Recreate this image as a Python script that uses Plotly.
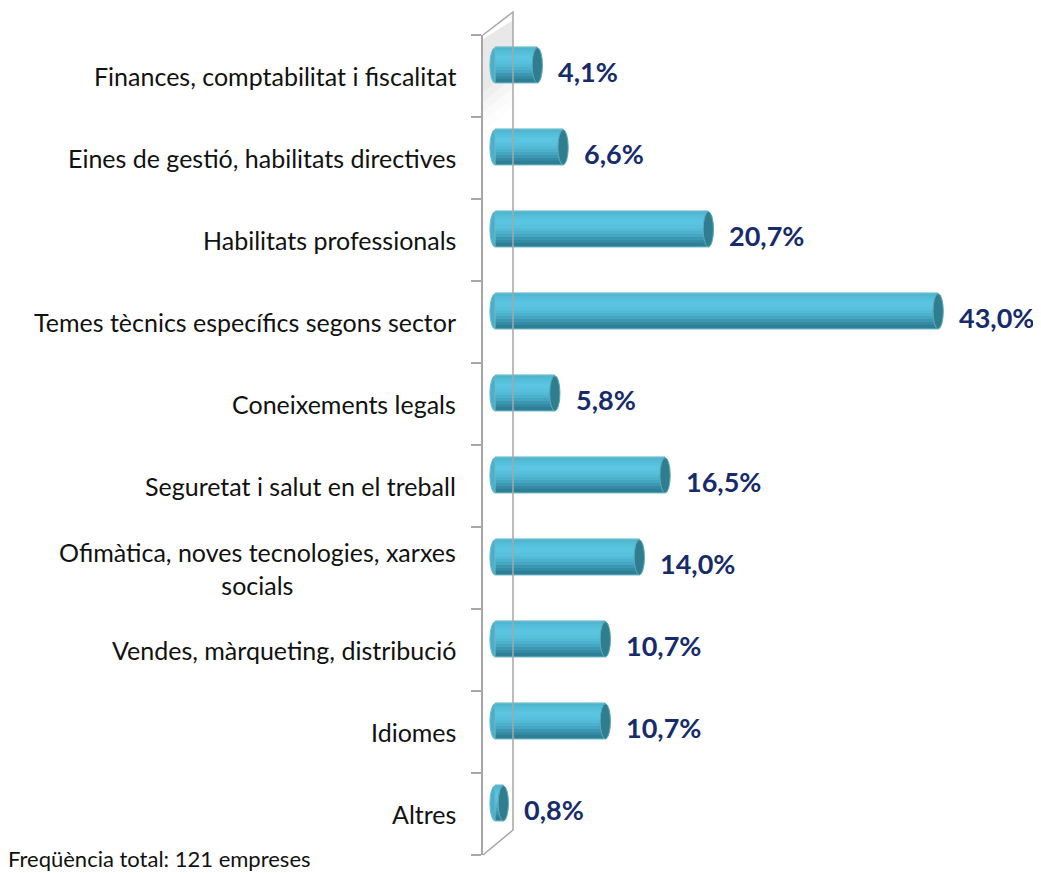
import plotly.graph_objects as go

# data (top to bottom as in the chart)
categories = [
    "Finances, comptabilitat i fiscalitat",
    "Eines de gestió, habilitats directives",
    "Habilitats professionals",
    "Temes tècnics específics segons sector",
    "Coneixements legals",
    "Seguretat i salut en el treball",
    "Ofimàtica, noves tecnologies, xarxes<br>socials",
    "Vendes, màrqueting, distribució",
    "Idiomes",
    "Altres",
]
percent = [4.1, 6.6, 20.7, 43.0, 5.8, 16.5, 14.0, 10.7, 10.7, 0.8]
footnote = "Freqüència total: 121 empreses"

FONT = "Lato"
NAVY = "#172B6B"
GRAY = "#A6A6A6"

# page has an 8px body margin, so figure is a bit smaller than the window
W, H = 1033, 865
ML, MR, MT, MB = 475, 40, 27, 18
PW, PH = W - ML - MR, H - MT - MB
X0, X1 = -1.17, 49.1   # x axis range
BAR_W = 0.43
SHIFT = 0.13           # bars sit a little above the tick centre (3D look)

# positions: first category at the top
ypos = list(range(len(categories) - 1, -1, -1))

fig = go.Figure()

# base fill under the shading strips (hides seams)
fig.add_trace(go.Bar(
    x=percent, y=ypos, orientation="h", width=BAR_W,
    offset=SHIFT - BAR_W / 2,
    marker=dict(color="#4FB7D1", line=dict(width=0)),
    hoverinfo="skip", showlegend=False,
))

# cylinder shading: stacked thin strips, top -> bottom
strip_colors = ["#4DB4CD", "#52BCD6", "#57C1DC", "#5AC5E0", "#5AC4E0",
                "#57C1DC", "#52BAD5", "#4BB1CC", "#44A6C0", "#3C98B2",
                "#348BA3", "#2D7F95"]
n = len(strip_colors)
sw = BAR_W / n
for i, c in enumerate(strip_colors):
    fig.add_trace(go.Bar(
        x=percent, y=ypos, orientation="h",
        base=0, width=sw * 1.4, offset=SHIFT + BAR_W / 2 - (i + 1) * sw,
        marker=dict(color=c, line=dict(width=0)),
        hoverinfo="skip", showlegend=False,
    ))

# outline
fig.add_trace(go.Bar(
    x=percent, y=ypos, orientation="h", width=BAR_W,
    offset=SHIFT - BAR_W / 2,
    marker=dict(color="rgba(0,0,0,0)", line=dict(color="#6FB9CB", width=1)),
    hoverinfo="skip", showlegend=False,
))

# end caps (ellipses at both ends of each cylinder)
cap = 0.5
for v, y in zip(percent, ypos):
    y0, y1 = y + SHIFT - BAR_W / 2, y + SHIFT + BAR_W / 2
    fig.add_shape(type="circle", xref="x", yref="y", layer="below",
                  x0=-cap, x1=cap, y0=y0, y1=y1,
                  fillcolor="#4AB0C9", line=dict(color="#6FB9CB", width=1))
    fig.add_shape(type="circle", xref="x", yref="y",
                  x0=v - cap, x1=v + cap, y0=y0, y1=y1,
                  fillcolor="#2F7E8F", line=dict(color="#5EA9BA", width=1))

# value labels
for v, y in zip(percent, ypos):
    fig.add_annotation(x=v, xref="x", y=y, yref="y",
                       text=f"{v:.1f}%".replace(".", ","),
                       xanchor="left", yanchor="middle", showarrow=False,
                       xshift=19, yshift=5,
                       font=dict(family=FONT, size=27, color=NAVY,
                                 weight="bold"))

# category labels, centred multi-line
for cat, y in zip(categories, ypos):
    fig.add_annotation(x=0, xref="paper", y=y, yref="y", text=cat,
                       xanchor="right", yanchor="middle", align="center",
                       xshift=-25, showarrow=False,
                       font=dict(family=FONT, size=25, color="#111111"))

# 3D back wall
dx = 30 / PW
dy_top = 23 / PH
dy_bot = 25 / PH
for k, a in enumerate([0.05, 0.04, 0.03, 0.02, 0.012]):
    fig.add_shape(type="path", xref="paper", yref="paper", layer="below",
                  path=f"M 0,{1 - 0.005} L {dx},{1 + dy_top - 0.01} "
                       f"L {dx},{1 - 0.04 - k * 0.012} "
                       f"L 0,{1 - 0.07 - k * 0.012} Z",
                  fillcolor=f"rgba(110,110,110,{a})", line=dict(width=0))
fig.add_shape(type="path", xref="paper", yref="paper",
              path=f"M 0,1 L {dx},{1 + dy_top} L {dx},{dy_bot} L 0,0",
              line=dict(color=GRAY, width=1.5))

fig.add_annotation(x=0, xref="paper", y=0, yref="paper", text=footnote,
                   xanchor="left", yanchor="middle", showarrow=False,
                   xshift=-ML - 2, yshift=-3,
                   font=dict(family=FONT, size=22, color="#111111"))

fig.update_xaxes(range=[X0, X1], visible=False, showgrid=False)
fig.update_yaxes(
    range=[-0.5, len(categories) - 0.5], showgrid=False, zeroline=False,
    showticklabels=False, showline=True, linecolor=GRAY, linewidth=1.5,
    tickvals=[i - 0.5 for i in range(len(categories) + 1)],
    ticks="outside", ticklen=10, tickcolor=GRAY, tickwidth=1.5,
)
fig.update_layout(
    width=W, height=H, barmode="overlay",
    margin=dict(l=ML, r=MR, t=MT, b=MB),
    plot_bgcolor="white", paper_bgcolor="white",
    font=dict(family=FONT),
)

fig.write_html("out.html")
